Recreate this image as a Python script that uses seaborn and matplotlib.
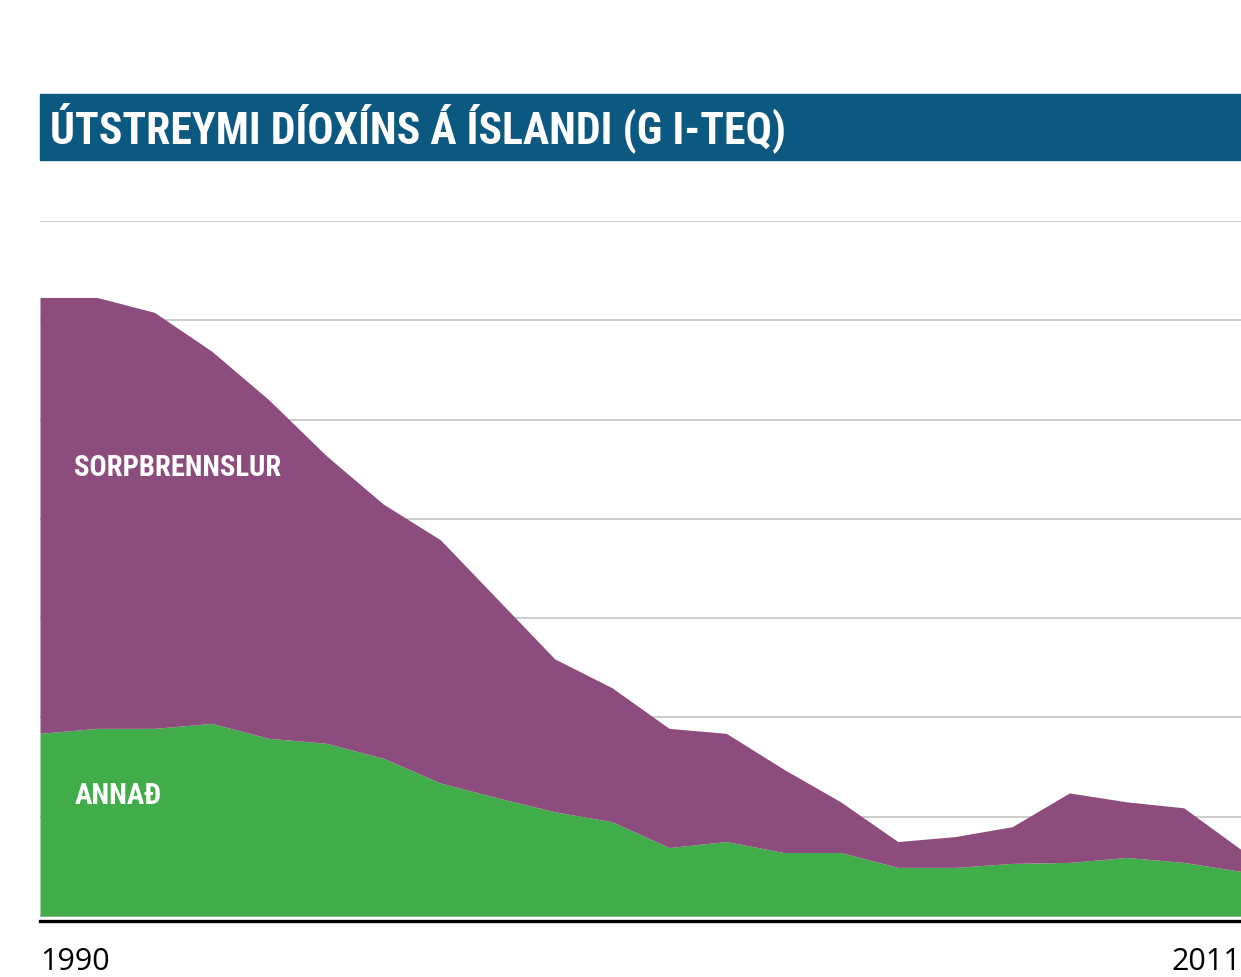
import matplotlib
matplotlib.use("Agg")
import matplotlib.pyplot as plt
from matplotlib import font_manager
import seaborn as sns
from matplotlib.patches import Rectangle

years = list(range(1990, 2012))
annad = [1.84, 1.89, 1.89, 1.94, 1.79, 1.74, 1.59, 1.34, 1.19, 1.05, 0.95,
         0.69, 0.75, 0.64, 0.64, 0.49, 0.49, 0.53, 0.54, 0.59, 0.54, 0.45]
sorp = [4.39, 4.34, 4.19, 3.75, 3.41, 2.90, 2.56, 2.45, 2.00, 1.54, 1.35,
        1.20, 1.09, 0.84, 0.51, 0.26, 0.31, 0.37, 0.70, 0.56, 0.55, 0.22]
series_labels = ["ANNAÐ", "SORPBRENNSLUR"]
title = "ÚTSTREYMI DÍOXÍNS Á ÍSLANDI (G I-TEQ)"
x_tick_labels = ["1990", "2011"]

sns.set_theme(style="white")

names = sorted({f.name for f in font_manager.fontManager.ttflist})
cond = [n for n in names if ("Narrow" in n or "Condensed" in n)]
pref = ["Liberation Sans Narrow", "Roboto Condensed", "Open Sans Condensed",
        "DejaVu Sans Condensed"]
cond_font = None
for p in pref:
    if p in names:
        cond_font = p
        break
if cond_font is None and cond:
    cond_font = cond[0]
if cond_font is None:
    cond_font = "Roboto"
plt.rcParams['font.family'] = [cond_font, 'DejaVu Sans']

W, H = 1241, 978
fig = plt.figure(figsize=(W / 100, H / 100), dpi=100)

ax = fig.add_axes([40 / W, (H - 922) / H, (W - 40) / W, 700 / H])
green = "#41ac4a"
purple = "#8c4d7e"
ax.stackplot(years, annad, sorp, colors=[green, purple], linewidth=0)
ax.set_xlim(years[0], years[-1])
ax.set_ylim(-0.05, 7)
ax.set_yticks(range(0, 8))
ax.yaxis.grid(True, color="#c8c8c8", linewidth=1.3, zorder=0)
ax.set_axisbelow(True)
ax.set_yticklabels([])
ax.tick_params(left=False, bottom=False)
ax.set_xticks([])
for s in ["left", "right", "top"]:
    ax.spines[s].set_visible(False)
ax.spines["bottom"].set_color("black")
ax.spines["bottom"].set_linewidth(2.4)

ax.text(1990.6, 1.22, series_labels[0], color="white", fontsize=21,
        fontweight="bold", va="center", ha="left")
ax.text(1990.6, 4.52, series_labels[1], color="white", fontsize=20.6,
        fontweight="bold", va="center", ha="left")

# title bar
fig.patches.append(Rectangle((40 / W, (H - 161) / H), (W - 40) / W, 66 / H,
                             transform=fig.transFigure, color="#0b5880", zorder=0))
fig.text(50 / W, (H - 128) / H, title, color="white", fontsize=31.5,
         fontweight="bold", va="center", ha="left")

fig.text(40 / W, 0.5 / H, x_tick_labels[0], fontsize=22, color="black",
         va="bottom", ha="left", family=["Open Sans", "DejaVu Sans"])
fig.text(1.0, 0.5 / H, x_tick_labels[1], fontsize=22, color="black",
         va="bottom", ha="right", family=["Open Sans", "DejaVu Sans"])

fig.savefig("out.png", dpi=100, facecolor="white")
